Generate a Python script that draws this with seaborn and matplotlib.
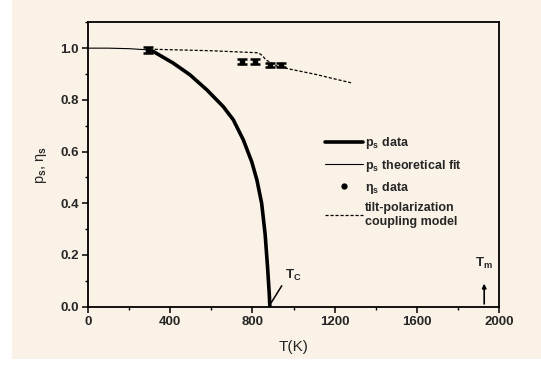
import numpy as np
import matplotlib
matplotlib.use("Agg")
import matplotlib.pyplot as plt
from matplotlib.patches import Rectangle
from matplotlib.lines import Line2D
from matplotlib.ticker import MultipleLocator
import seaborn as sns

# p_s curve
T_ps = [300, 318, 415, 496, 578, 658, 707, 756, 797, 822, 845, 862, 874, 882, 885]
ps_data = [0.993, 0.987, 0.942, 0.897, 0.839, 0.774, 0.723, 0.645, 0.56, 0.49, 0.40, 0.28, 0.15, 0.05, 0.0]
T_fit = [0, 100, 200, 300]
ps_fit = [1.0, 1.0, 0.998, 0.993]

# eta_s data points
T_eta = [293, 748, 815, 887, 940]
eta = [0.993, 0.948, 0.948, 0.935, 0.935]
eta_err = [0.012, 0.009, 0.009, 0.009, 0.009]

# tilt-polarization coupling model
T_model = [300, 600, 830, 850, 865, 920, 1000, 1100, 1280]
model = [0.996, 0.99, 0.982, 0.97, 0.955, 0.93, 0.916, 0.90, 0.866]

Tm = 1928

bg = "#faf2e6"
sns.set_style("ticks")
plt.rcParams["font.family"] = ["Liberation Sans", "DejaVu Sans"]
plt.rcParams["font.weight"] = "bold"
plt.rcParams["mathtext.fontset"] = "custom"
plt.rcParams["mathtext.rm"] = "Liberation Sans:bold"
plt.rcParams["mathtext.it"] = "Liberation Sans:bold"

fig = plt.figure(figsize=(5.41, 3.71), dpi=100, facecolor="white")
fig.patches.append(Rectangle((12 / 541, 12 / 371), 1, 1, transform=fig.transFigure,
                             facecolor=bg, edgecolor="none", zorder=-10))
ax = fig.add_axes([88 / 541, 1 - 306.7 / 371, 411 / 541, 284.4 / 371])
ax.set_facecolor(bg)

sns.lineplot(x=T_fit + T_ps, y=ps_fit + ps_data, ax=ax, color="black", linewidth=0.8,
             sort=False, estimator=None)
sns.lineplot(x=T_ps, y=ps_data, ax=ax, color="black", linewidth=2.6, sort=False, estimator=None)
sns.lineplot(x=T_model, y=model, ax=ax, color="black", linewidth=0.9, linestyle=(0, (2.5, 1.5)),
             sort=False, estimator=None)
ax.errorbar(T_eta, eta, yerr=eta_err, fmt="s", color="black", markersize=3,
            capsize=3.5, elinewidth=3, capthick=1.8)

# T_m marker
ax.annotate("", xy=(Tm, 0.1), xytext=(Tm, 0.0),
            arrowprops=dict(arrowstyle="-|>", color="black", lw=1.2, mutation_scale=6))
ax.text(Tm, 0.14, r"T$_m$", ha="center", va="bottom", fontsize=9.5)
# T_c marker
ax.annotate("", xy=(884, 0.006), xytext=(950, 0.09),
            arrowprops=dict(arrowstyle="-", color="black", lw=1.1))
ax.text(960, 0.09, r"T$_C$", ha="left", va="bottom", fontsize=9.5)

ax.set_xlim(0, 2000)
ax.set_ylim(0, 1.1)
ax.xaxis.set_major_locator(MultipleLocator(400))
ax.xaxis.set_minor_locator(MultipleLocator(200))
ax.yaxis.set_minor_locator(MultipleLocator(0.1))
ax.set_yticks([0, 0.2, 0.4, 0.6, 0.8, 1.0])
ax.set_yticklabels(["0.0", "0.2", "0.4", "0.6", "0.8", "1.0"])
ax.tick_params(which="major", length=4, width=1.1, labelsize=9.5, direction="out", color="black",
               pad=2.5)
ax.tick_params(which="minor", length=2.5, width=1.0, direction="out", color="black")
for s in ax.spines.values():
    s.set_visible(True)
    s.set_linewidth(1.3)
    s.set_color("black")

ax.set_xlabel("T(K)", fontsize=11, labelpad=9)
ax.set_ylabel(r"p$_s$, η$_s$", fontsize=10.5, labelpad=8)

handles = [
    Line2D([], [], color="black", linewidth=2.6),
    Line2D([], [], color="black", linewidth=0.8),
    Line2D([], [], color="black", marker="o", markersize=3.5, linestyle="none"),
    Line2D([], [], color="black", linewidth=0.9, linestyle=(0, (2.5, 1.5))),
]
labels = [r"p$_s$ data", r"p$_s$ theoretical fit", r"η$_s$ data",
          "tilt-polarization\ncoupling model"]
ax.legend(handles, labels, loc="upper left", bbox_to_anchor=(0.565, 0.62), frameon=False,
          fontsize=9, handlelength=3.0, handletextpad=0.2, labelspacing=0.5,
          borderaxespad=0)

fig.savefig("out.png", dpi=100, facecolor=fig.get_facecolor())
